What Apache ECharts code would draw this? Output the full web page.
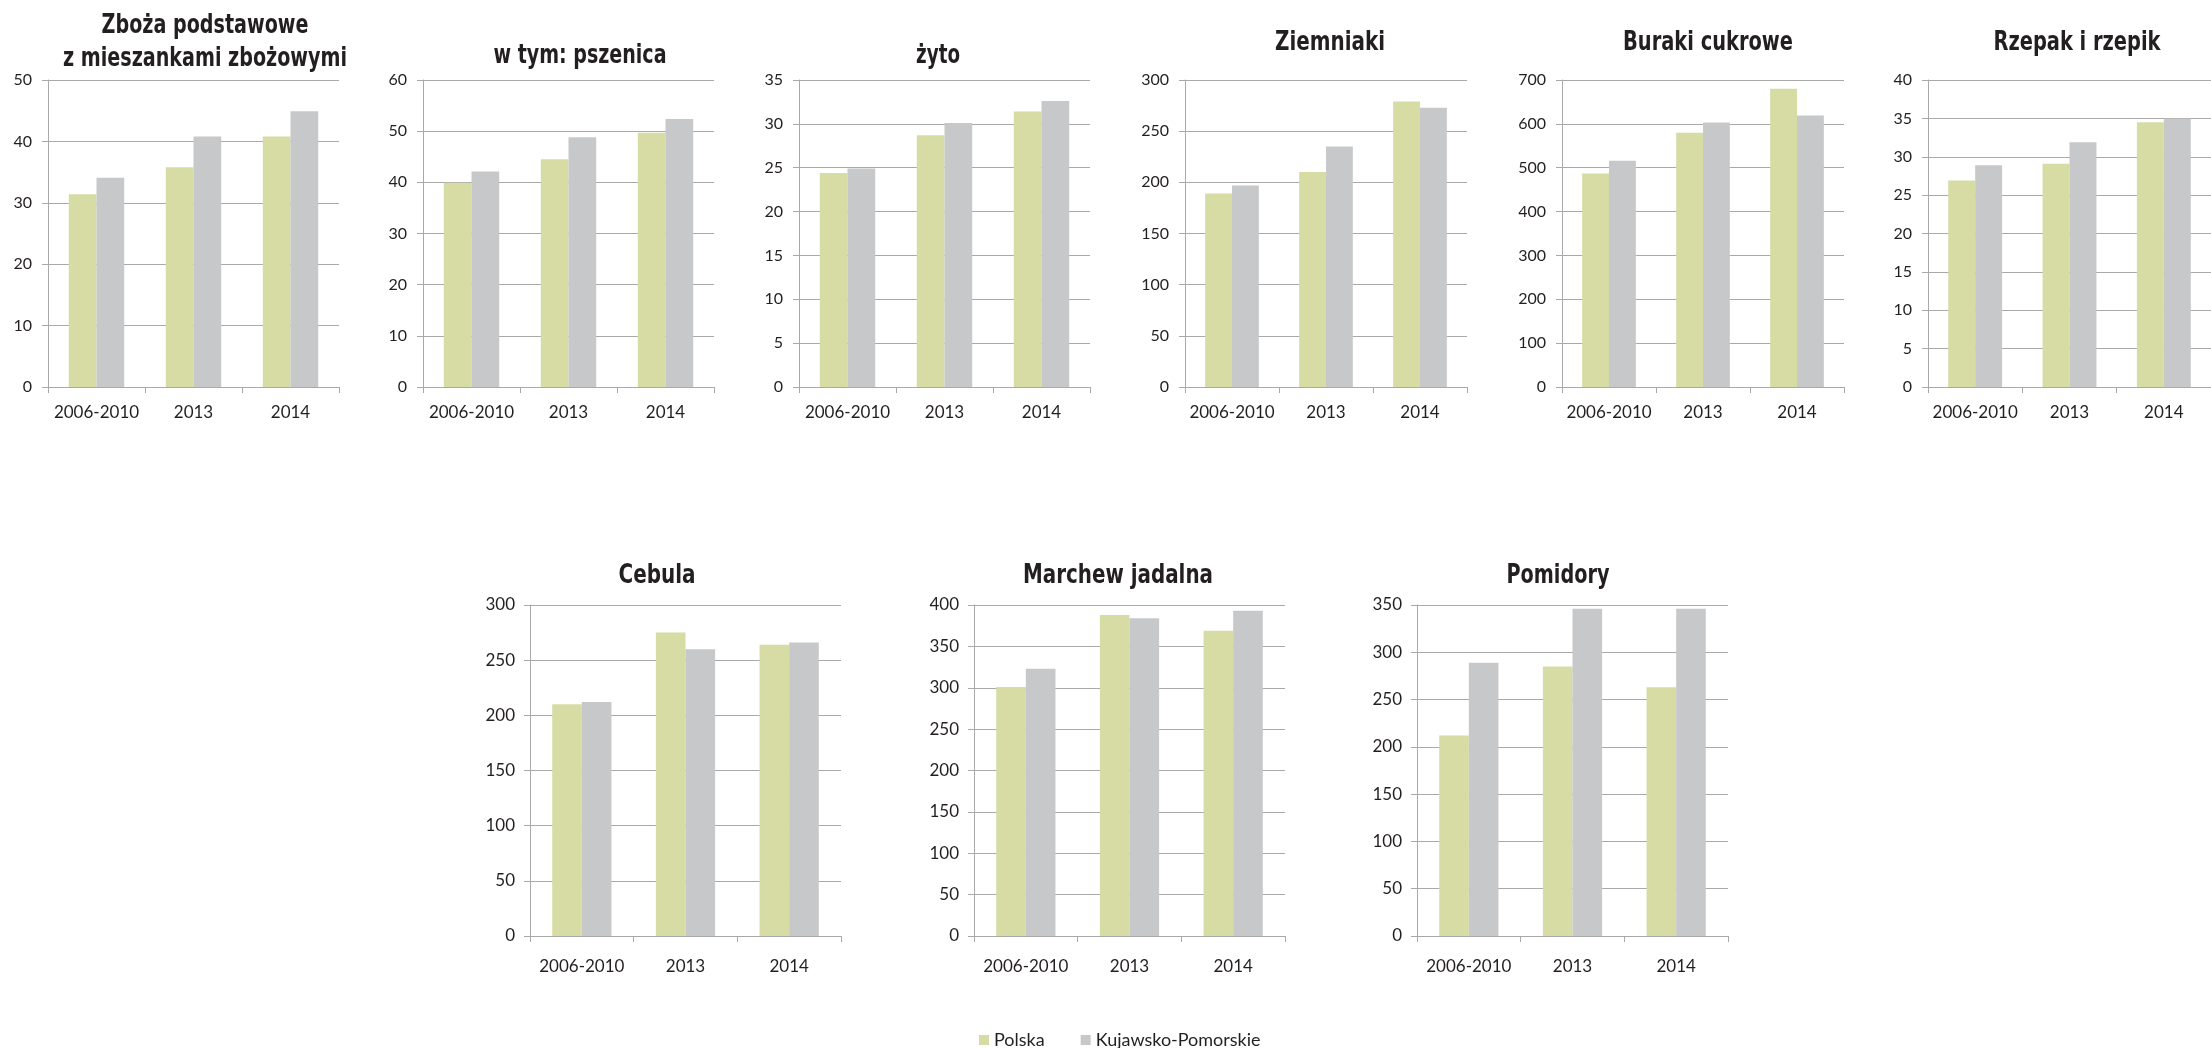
<!DOCTYPE html>
<html>
<head>
<meta charset="utf-8">
<script src="https://cdn.jsdelivr.net/npm/echarts@6/dist/echarts.min.js"></script>
<style>
html,body{margin:0;padding:0;background:#fff;}
#c{width:2211px;height:1048px;}
</style>
</head>
<body>
<div id="c"></div>
<script>
// ---- data ----
const categories = ['2006-2010', '2013', '2014'];
const seriesNames = ['Polska', 'Kujawsko-Pomorskie'];

const titles = [
  'Zboża podstawowe\nz mieszankami zbożowymi',
  'w tym: pszenica',
  'żyto',
  'Ziemniaki',
  'Buraki cukrowe',
  'Rzepak i rzepik',
  'Cebula',
  'Marchew jadalna',
  'Pomidory'
];

const polska = [
  [31.4, 35.8, 40.8],   // Zboża
  [39.9, 44.5, 49.7],   // pszenica
  [24.4, 28.7, 31.4],   // żyto
  [189, 210, 279],      // Ziemniaki
  [487, 580, 680],      // Buraki
  [26.9, 29.1, 34.5],   // Rzepak
  [210, 275, 264],      // Cebula
  [301, 388, 369],      // Marchew
  [212, 285, 263]       // Pomidory
];
const kujawsko = [
  [34.1, 40.8, 44.9],
  [42.1, 48.8, 52.4],
  [24.9, 30.1, 32.6],
  [197, 235, 273],
  [516, 603, 619],
  [28.9, 31.9, 35.0],
  [212, 260, 266],
  [323, 384, 393],
  [289, 346, 346]
];

const yMax = [50, 60, 35, 300, 700, 40, 300, 400, 350];
const yInterval = [10, 10, 5, 50, 100, 5, 50, 50, 50];

// ---- layout ----
const gridBoxes = [
  {left: 48,   top: 80,  width: 291, height: 307},
  {left: 423,  top: 80,  width: 291, height: 307},
  {left: 799,  top: 80,  width: 291, height: 307},
  {left: 1185, top: 80,  width: 282, height: 307},
  {left: 1562, top: 80,  width: 282, height: 307},
  {left: 1928, top: 80,  width: 291, height: 307},
  {left: 530,  top: 605, width: 311, height: 331},
  {left: 974,  top: 605, width: 311, height: 331},
  {left: 1417, top: 605, width: 311, height: 331}
];
// title centre x, top y, and rendered width of the widest line (condensed look)
const titlePos = [
  {x: 205,  y: 9,   w: 284},
  {x: 580,  y: 39,  w: 173},
  {x: 938,  y: 39,  w: 44},
  {x: 1330, y: 26,  w: 110},
  {x: 1708, y: 26,  w: 170},
  {x: 2077, y: 26,  w: 167},
  {x: 657,  y: 559, w: 77},
  {x: 1118, y: 559, w: 190},
  {x: 1558, y: 559, w: 103}
];

const GREEN = '#d7dca5';
const GRAY = '#c7c8ca';
const LINE = '#a9a9a9';
const TXT = '#231f20';
const TITLE_FAMILY = '"DejaVu Sans Condensed", "DejaVu Sans", sans-serif';
const TITLE_SIZE = 27;

const measureCtx = document.createElement('canvas').getContext('2d');
measureCtx.font = 'bold ' + TITLE_SIZE + 'px ' + TITLE_FAMILY;
function widest(t) {
  return Math.max.apply(null, t.split('\n').map(s => measureCtx.measureText(s).width));
}

const option = {
  backgroundColor: '#ffffff',
  animation: false,
  graphic: titles.map((t, i) => ({
    type: 'text',
    x: titlePos[i].x,
    y: titlePos[i].y,
    scaleX: titlePos[i].w / widest(t),
    silent: true,
    style: {
      text: t,
      fontFamily: TITLE_FAMILY,
      fontWeight: 'bold',
      fontSize: TITLE_SIZE,
      lineHeight: 33,
      fill: TXT,
      align: 'center',
      verticalAlign: 'top'
    }
  })),
  legend: {
    data: seriesNames,
    left: 974,
    top: 1026,
    icon: 'rect',
    itemWidth: 10,
    itemHeight: 10,
    itemGap: 36,
    textStyle: {fontFamily: 'Lato', fontSize: 18, color: TXT}
  },
  grid: gridBoxes.map(g => ({left: g.left, top: g.top, width: g.width, height: g.height, containLabel: false})),
  xAxis: gridBoxes.map((g, i) => ({
    type: 'category',
    gridIndex: i,
    data: categories,
    axisLine: {show: true, lineStyle: {color: LINE, width: 1}},
    axisTick: {show: true, length: 6, lineStyle: {color: LINE}},
    axisLabel: {
      fontFamily: 'Lato',
      fontSize: 17,
      color: TXT,
      margin: i < 6 ? 17 : 22,
      interval: 0
    }
  })),
  yAxis: gridBoxes.map((g, i) => ({
    type: 'value',
    gridIndex: i,
    min: 0,
    max: yMax[i],
    interval: yInterval[i],
    axisLine: {show: true, lineStyle: {color: LINE, width: 1}},
    axisTick: {show: true, length: 6, lineStyle: {color: LINE}},
    splitLine: {show: true, lineStyle: {color: LINE, width: 1}},
    axisLabel: {
      fontFamily: 'Lato',
      fontSize: i < 6 ? 16 : 17,
      color: TXT,
      margin: i < 6 ? 16 : 15
    }
  })),
  series: []
};

for (let i = 0; i < titles.length; i++) {
  option.series.push({
    name: seriesNames[0],
    type: 'bar',
    xAxisIndex: i,
    yAxisIndex: i,
    data: polska[i],
    barWidth: '28.57%',
    barGap: '0%',
    itemStyle: {color: GREEN}
  });
  option.series.push({
    name: seriesNames[1],
    type: 'bar',
    xAxisIndex: i,
    yAxisIndex: i,
    data: kujawsko[i],
    barWidth: '28.57%',
    barGap: '0%',
    itemStyle: {color: GRAY}
  });
}

const chart = echarts.init(document.getElementById('c'), null, {renderer: 'canvas', width: 2211, height: 1048});
chart.setOption(option);
</script>
</body>
</html>
